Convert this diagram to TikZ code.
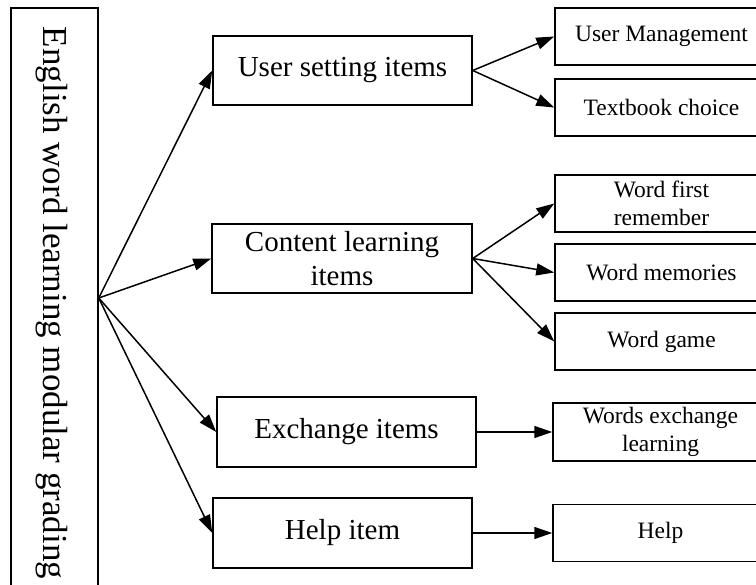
\documentclass[tikz,border=0pt]{standalone}
\usepackage{fontspec}
\setmainfont{Liberation Serif}
\usetikzlibrary{arrows.meta}

\tikzset{
  box/.style={draw, line width=1.5pt, rectangle, inner sep=0pt, align=center},
  midbox/.style={box, minimum width=259pt, minimum height=69pt,
    font=\fontsize{29}{34}\selectfont},
  leafbox/.style={box, minimum width=213pt, minimum height=57pt,
    font=\fontsize{23.5}{28}\selectfont},
  arr/.style={line width=1.5pt, -{Triangle[length=18pt,width=12pt]}},
}

\begin{document}
\begin{tikzpicture}[x=1pt, y=-1pt]
  \useasboundingbox (0,0) rectangle (756,585);
  \fill[white] (0,0) rectangle (756,585);
  \clip (0,0) rectangle (756,585);

  % root box with vertical title
  \node[box, minimum width=87pt, minimum height=592pt] (main) at (54.5,304) {};
  \node[rotate=-90, font=\fontsize{35}{40}\selectfont] (title) at (52,303)
    {English word learning modular grading};
  \coordinate (src) at ([yshift=6pt]main.east);

  % second level
  \node[midbox] (us) at (342.5,70.5) {User setting items};
  \node[midbox, minimum width=260pt] (cl) at (342,258.5) {Content learning\\items};
  \node[midbox, minimum height=70pt] (ex) at (346.5,432) {Exchange items};
  \node[midbox, minimum height=70pt] (hi) at (342.5,533) {Help item};

  % leaves
  \node[leafbox] (um) at (661.5,36.5) {User Management};
  \node[leafbox] (tb) at (661.5,107.5) {Textbook choice};
  \node[leafbox] (wf) at (661.5,203.5) {Word first\\remember};
  \node[leafbox] (wm) at (661.5,272.5) {Word memories};
  \node[leafbox] (wg) at (661.5,341.5) {Word game};
  \node[leafbox, minimum width=215pt, minimum height=58pt] (we) at (660.5,432) {Words exchange\\learning};
  \node[leafbox, minimum width=215pt] (hp) at (660.5,533) {Help};

  % connectors
  \draw[arr] (src) -- (us.west);
  \draw[arr] (src) -- (cl.west);
  \draw[arr] (src) -- (ex.west);
  \draw[arr] (src) -- (hi.west);

  \draw[arr] (us.east) -- (um.west);
  \draw[arr] (us.east) -- (tb.west);
  \draw[arr] (cl.east) -- (wf.west);
  \draw[arr] (cl.east) -- (wm.west);
  \draw[arr] (cl.east) -- (wg.west);
  \draw[arr] (ex.east) -- (we.west);
  \draw[arr] (hi.east) -- (hp.west);
\end{tikzpicture}
\end{document}
